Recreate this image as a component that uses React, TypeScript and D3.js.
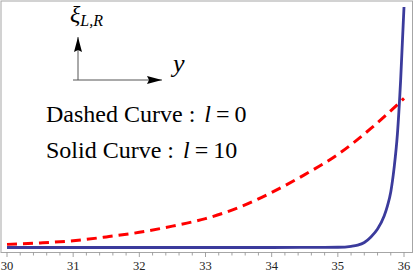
import React, { useRef, useEffect } from 'react';
import * as d3 from 'd3';

// x positions and read-off curve values (arbitrary units, 0 = floor of the solid curve)
const xs = [30, 30.5, 31, 31.5, 32, 32.5, 33, 33.5, 34, 34.5, 35, 35.5, 36];
const dashedVals = [0.013, 0.019, 0.028, 0.044, 0.063, 0.089, 0.12, 0.166, 0.229, 0.303, 0.387, 0.495, 0.62];

const solidXs = [30, 31, 32, 33, 34, 34.8, 35, 35.2, 35.3, 35.4, 35.5, 35.6, 35.7, 35.75, 35.8, 35.85, 35.9, 35.95, 36];
const solidVals = [0, 0, 0, 0, 0, 0.0005, 0.001, 0.005, 0.01, 0.021, 0.044, 0.077, 0.131, 0.173, 0.231, 0.33, 0.47, 0.7, 1.0];

const majorTicks = [30, 31, 32, 33, 34, 35, 36];
const minorTicks = d3.range(29.8, 36.21, 0.2).map(v => +v.toFixed(1));

const legendNames = ["Dashed Curve", "Solid Curve"];
const legendValues = ["0", "10"];

const serif = '"Liberation Serif", "Times New Roman", Times, serif';

const App = () => {
    const svgRef = useRef<SVGSVGElement>(null);

    useEffect(() => {
        const width = 415;
        const height = 277;
        const frame = { left: 1, right: 412.5, top: 1, bottom: 252.5 };

        const svg = d3.select(svgRef.current)
            .attr("width", width)
            .attr("height", height);
        svg.selectAll("*").remove();

        const x = d3.scaleLinear().domain([30, 36]).range([7, 404]);
        const y = d3.scaleLinear().domain([0, 1]).range([247.5, 7]);

        const defs = svg.append("defs");
        defs.append("clipPath")
            .attr("id", "plotclip")
            .append("rect")
            .attr("x", frame.left)
            .attr("y", 7)
            .attr("width", frame.right - frame.left)
            .attr("height", frame.bottom - 7);

        defs.append("marker")
            .attr("id", "ahead")
            .attr("viewBox", "0 0 15 8")
            .attr("refX", 15)
            .attr("refY", 4)
            .attr("markerWidth", 15)
            .attr("markerHeight", 8)
            .attr("markerUnits", "userSpaceOnUse")
            .attr("orient", "auto")
            .append("path")
            .attr("d", "M0,0 L15,4 L0,8 L2,4 Z")
            .attr("fill", "#000");

        // frame
        svg.append("rect")
            .attr("x", frame.left)
            .attr("y", frame.top)
            .attr("width", frame.right - frame.left)
            .attr("height", frame.bottom - frame.top)
            .attr("fill", "none")
            .attr("stroke", "#a6a6a6")
            .attr("stroke-width", 1);

        // bottom ticks
        svg.append("g")
            .selectAll("line")
            .data(minorTicks.filter(t => x(t) > frame.left && x(t) < frame.right))
            .enter()
            .append("line")
            .attr("x1", d => x(d))
            .attr("x2", d => x(d))
            .attr("y1", frame.bottom)
            .attr("y2", d => majorTicks.includes(d) ? frame.bottom + 4.5 : frame.bottom + 3)
            .attr("stroke", "#8c8c8c")
            .attr("stroke-width", 0.8);

        svg.append("g")
            .selectAll("text")
            .data(majorTicks)
            .enter()
            .append("text")
            .attr("x", d => x(d))
            .attr("y", 270)
            .attr("text-anchor", "middle")
            .style("font-family", serif)
            .style("font-size", "12.5px")
            .style("fill", "#222")
            .text(d => d);

        const line = d3.line<[number, number]>()
            .x(d => x(d[0]))
            .y(d => y(d[1]))
            .curve(d3.curveMonotoneX);

        const plot = svg.append("g").attr("clip-path", "url(#plotclip)");

        plot.append("path")
            .datum(xs.map((v, i) => [v, dashedVals[i]] as [number, number]))
            .attr("d", line)
            .attr("fill", "none")
            .attr("stroke", "#ff0000")
            .attr("stroke-width", 3)
            .attr("stroke-dasharray", "10,6");

        plot.append("path")
            .datum(solidXs.map((v, i) => [v, solidVals[i]] as [number, number]))
            .attr("d", line)
            .attr("fill", "none")
            .attr("stroke", "#3b3b9c")
            .attr("stroke-width", 2.8);

        // axis-direction arrows
        const arrows = svg.append("g");
        arrows.append("line")
            .attr("x1", 78).attr("y1", 80)
            .attr("x2", 78).attr("y2", 37)
            .attr("stroke", "#555").attr("stroke-width", 1)
            .attr("marker-end", "url(#ahead)");

        arrows.append("line")
            .attr("x1", 73).attr("y1", 80)
            .attr("x2", 162).attr("y2", 80)
            .attr("stroke", "#555").attr("stroke-width", 1)
            .attr("marker-end", "url(#ahead)");

        const xi = svg.append("text")
            .attr("x", 70)
            .attr("y", 22)
            .style("font-family", serif)
            .style("font-size", "24px")
            .style("font-style", "italic");
        xi.append("tspan").text("ξ");
        xi.append("tspan")
            .attr("dy", 4)
            .style("font-size", "16px")
            .text("L,R");

        svg.append("text")
            .attr("x", 173)
            .attr("y", 72)
            .style("font-family", serif)
            .style("font-size", "26px")
            .style("font-style", "italic")
            .text("y");

        const rows = [121.5, 158];
        legendNames.forEach((name, i) => {
            const t = svg.append("text")
                .attr("x", 46)
                .attr("y", rows[i])
                .style("font-family", serif)
                .style("font-size", "24px")
                .style("fill", "#000");
            t.append("tspan").text(name);
            t.append("tspan").attr("dx", 6).text(":");
            t.append("tspan").attr("dx", 9).style("font-style", "italic").text("l");
            t.append("tspan").attr("dx", 5).text("=");
            t.append("tspan").attr("dx", 5).text(legendValues[i]);
        });
    }, []);

    return (
        <div>
            <style>{`body{margin:0}`}</style>
            <svg ref={svgRef} style={{ display: "block" }}></svg>
        </div>
    );
};

export default App;
